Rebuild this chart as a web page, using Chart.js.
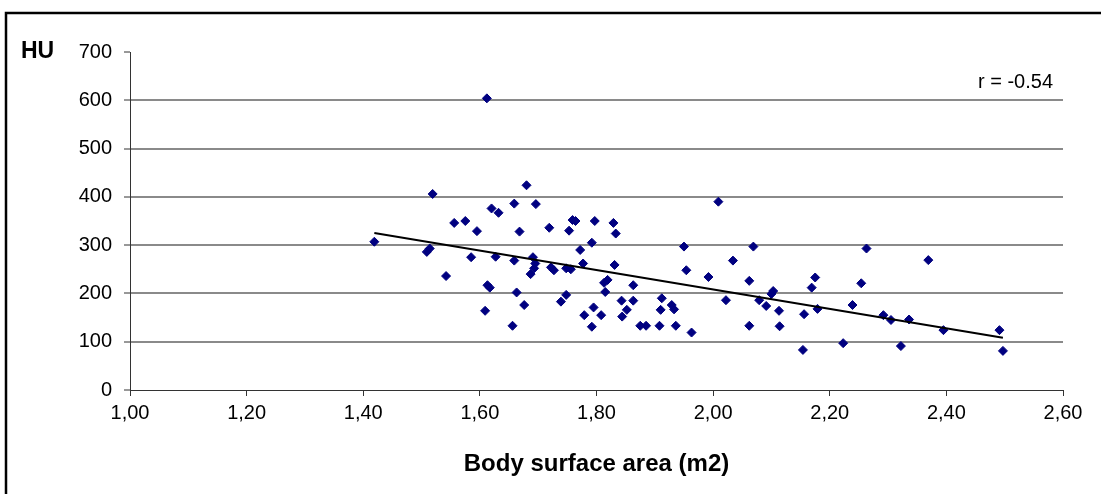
<!DOCTYPE html>
<html>
<head>
<meta charset="utf-8">
<script src="https://cdn.jsdelivr.net/npm/chart.js@4.4.1/dist/chart.umd.min.js"></script>
<style>
html,body{margin:0;padding:0;background:#fff;}
#wrap{width:1101px;height:494px;}
</style>
</head>
<body>
<div id="wrap"><canvas id="bsaChart" width="1101" height="494"></canvas></div>
<script>
// ------------------------------------------
// data
// ------------------------------------------

const bsa = [
    1.419, 1.519, 1.556, 1.575, 1.595, 1.620, 1.632, 1.659, 1.668, 1.509,
    1.514, 1.542, 1.585, 1.627, 1.659, 1.613, 1.617, 1.663, 1.609, 1.656,
    1.680, 1.696, 1.719, 1.759, 1.764, 1.753, 1.797, 1.829, 1.833, 1.792,
    1.772, 1.691, 1.695, 1.693, 1.687, 1.722, 1.727, 1.748, 1.756, 1.777,
    1.831, 1.813, 1.819, 1.815, 1.863, 1.676, 1.739, 1.748, 1.779, 1.795,
    1.808, 1.792, 1.843, 1.863, 1.852, 1.844, 1.875, 1.885, 1.908, 1.912,
    1.910, 1.929, 1.933, 2.009, 1.950, 2.069, 2.034, 1.954, 1.992, 2.062,
    2.175, 2.169, 1.936, 1.963, 2.022, 2.062, 2.079, 2.091, 2.103, 2.100,
    2.113, 2.114, 2.156, 2.154, 2.179, 2.263, 2.369, 2.254, 2.239, 2.292,
    2.305, 2.336, 2.395, 2.491, 2.497, 2.223, 2.322, 1.612
];

const hu = [
    307, 406, 346, 350, 329, 376, 367, 386, 328, 286,
    293, 236, 275, 276, 268, 217, 212, 202, 164, 133,
    424, 385, 336, 352, 350, 330, 350, 346, 324, 305,
    290, 275, 262, 252, 240, 254, 248, 252, 250, 262,
    259, 222, 228, 203, 217, 176, 183, 197, 155, 171,
    155, 131, 185, 185, 166, 152, 133, 133, 133, 190,
    166, 176, 167, 390, 297, 297, 268, 248, 234, 226,
    233, 212, 133, 119, 186, 133, 186, 174, 205, 199,
    164, 132, 157, 83, 168, 293, 269, 221, 176, 155,
    145, 146, 124, 124, 81, 97, 91, 604
];

// trend line ends
const trendBsa = [1.419, 2.497];
const trendHu = [325, 108];

// tick labels
const xTickValues = [1.0, 1.2, 1.4, 1.6, 1.8, 2.0, 2.2, 2.4, 2.6];
const yTickValues = [0, 100, 200, 300, 400, 500, 600, 700];

const yUnit = "HU";
const xTitle = "Body surface area (m2)";
const rLabel = "r = -0.54";


// ------------------------------------------
// frame + extra labels
// ------------------------------------------

const FONT = "'Liberation Sans', Arial, sans-serif";

const extraText = {
    id: "extraText",
    afterDraw(chart){
        const c = chart.ctx;
        c.save();

        // frame
        c.strokeStyle = "#000";
        c.lineWidth = 2.5;
        c.beginPath();
        c.moveTo(6, 600);
        c.lineTo(6, 13);
        c.lineTo(1200, 13);
        c.stroke();

        c.fillStyle = "#000";
        c.textBaseline = "middle";

        // HU
        c.font = "bold 23px " + FONT;
        c.textAlign = "left";
        c.fillText(yUnit, 21, 52);

        // r value
        c.font = "20px " + FONT;
        c.textAlign = "right";
        c.fillText(rLabel, 1053, 82);

        c.restore();
    }
};


// ------------------------------------------
// chart
// ------------------------------------------

const points = bsa.map((x, i) => ({x: x, y: hu[i]}));
const trend = trendBsa.map((x, i) => ({x: x, y: trendHu[i]}));

const tickFont = {family: FONT, size: 20};

new Chart(document.getElementById("bsaChart").getContext("2d"), {

    type: "scatter",

    data: {
        datasets: [
            {
                type: "line",
                data: trend,
                borderColor: "#000",
                borderWidth: 2,
                pointRadius: 0,
                fill: false,
                order: 0
            },
            {
                data: points,
                pointStyle: "rectRot",
                pointRadius: 4.5,
                pointBorderWidth: 1,
                backgroundColor: "#000080",
                borderColor: "#000080",
                order: 1
            }
        ]
    },

    options: {
        responsive: false,
        animation: false,
        devicePixelRatio: 1,
        layout: {
            padding: {left: 0, top: 52, right: 38, bottom: 0}
        },
        plugins: {
            legend: {display: false},
            tooltip: {enabled: false}
        },
        scales: {
            x: {
                type: "linear",
                min: xTickValues[0],
                max: xTickValues[xTickValues.length - 1],
                afterBuildTicks: s => { s.ticks = xTickValues.map(v => ({value: v})); },
                afterFit: s => { s.height = 104; },
                grid: {
                    drawOnChartArea: false,
                    tickLength: 6,
                    tickColor: "#333",
                    tickWidth: 1
                },
                border: {color: "#333", width: 1},
                ticks: {
                    color: "#000",
                    font: tickFont,
                    padding: 5,
                    maxRotation: 0,
                    callback: v => v.toFixed(2).replace(".", ",")
                },
                title: {
                    display: true,
                    text: xTitle,
                    color: "#000",
                    font: {family: FONT, size: 24, weight: "bold"},
                    padding: {top: 0, bottom: 15}
                }
            },
            y: {
                type: "linear",
                min: yTickValues[0],
                max: yTickValues[yTickValues.length - 1],
                afterBuildTicks: s => { s.ticks = yTickValues.map(v => ({value: v})); },
                afterFit: s => { s.width = 130; },
                grid: {
                    color: ctx => (ctx.tick && (ctx.tick.value === 0 || ctx.tick.value === 700)) ? "rgba(0,0,0,0)" : "#8a8a8a",
                    lineWidth: 2,
                    tickLength: 6,
                    tickColor: "#333",
                    tickWidth: 1
                },
                border: {color: "#333", width: 1},
                ticks: {
                    color: "#000",
                    font: tickFont,
                    padding: 12,
                    callback: v => String(v)
                }
            }
        }
    },

    plugins: [extraText]

});
</script>
</body>
</html>
